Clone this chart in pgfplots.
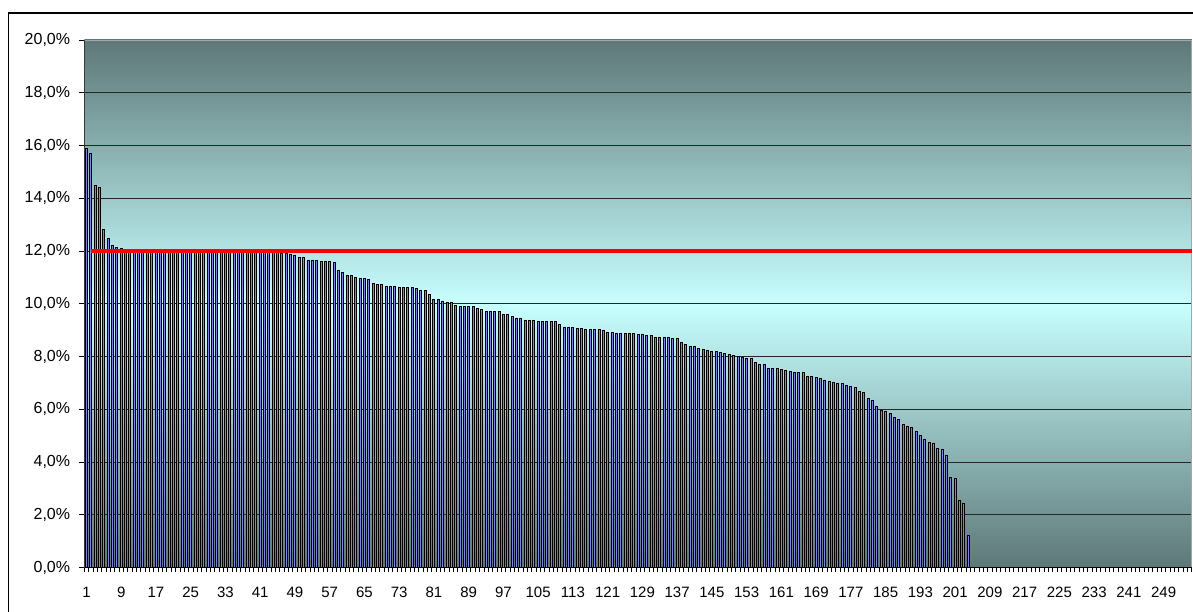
\documentclass[border=0pt]{standalone}
\usepackage{fontspec}
\setmainfont{Liberation Sans}
\usepackage{pgfplots}
\pgfplotsset{compat=1.18}
\usepackage{pgfplotstable}
\definecolor{bgdark}{RGB}{94,120,120}
\definecolor{bglight}{RGB}{200,255,255}
\definecolor{barfill}{RGB}{130,130,225}
\pgfplotstableread{
k v
1 15.9
2 15.7
3 14.5
4 14.4
5 12.82
6 12.49
7 12.2
8 12.15
9 12.1
10 12.06
11 12.05
12 12.04
13 12.03
14 12.03
15 12.02
16 12.02
17 12.01
18 12.01
19 12.0
20 12.0
21 12.0
22 12.0
23 12.0
24 12.0
25 12.0
26 12.0
27 12.0
28 12.0
29 12.0
30 12.0
31 11.98
32 11.98
33 11.98
34 11.98
35 11.98
36 11.98
37 11.98
38 11.98
39 11.98
40 11.98
41 11.96
42 11.96
43 11.96
44 11.96
45 11.96
46 11.91
47 11.89
48 11.86
49 11.85
50 11.76
51 11.75
52 11.66
53 11.66
54 11.65
55 11.61
56 11.61
57 11.60
58 11.56
59 11.28
60 11.18
61 11.08
62 11.08
63 11.01
64 10.96
65 10.96
66 10.91
67 10.77
68 10.74
69 10.74
70 10.67
71 10.67
72 10.66
73 10.62
74 10.62
75 10.62
76 10.61
77 10.57
78 10.50
79 10.50
80 10.34
81 10.15
82 10.15
83 10.09
84 10.05
85 10.05
86 9.95
87 9.90
88 9.90
89 9.90
90 9.89
91 9.84
92 9.79
93 9.71
94 9.71
95 9.70
96 9.70
97 9.60
98 9.60
99 9.50
100 9.46
101 9.46
102 9.37
103 9.37
104 9.36
105 9.32
106 9.32
107 9.32
108 9.31
109 9.31
110 9.21
111 9.12
112 9.12
113 9.11
114 9.08
115 9.05
116 9.02
117 9.02
118 9.02
119 9.01
120 8.97
121 8.92
122 8.92
123 8.87
124 8.87
125 8.87
126 8.86
127 8.86
128 8.83
129 8.83
130 8.78
131 8.78
132 8.73
133 8.73
134 8.73
135 8.72
136 8.68
137 8.67
138 8.52
139 8.44
140 8.39
141 8.38
142 8.32
143 8.28
144 8.23
145 8.18
146 8.18
147 8.14
148 8.13
149 8.09
150 8.03
151 7.99
152 7.98
153 7.91
154 7.91
155 7.79
156 7.70
157 7.70
158 7.55
159 7.55
160 7.54
161 7.51
162 7.48
163 7.44
164 7.41
165 7.41
166 7.40
167 7.26
168 7.26
169 7.21
170 7.16
171 7.11
172 7.06
173 7.01
174 6.97
175 6.96
176 6.92
177 6.86
178 6.81
179 6.68
180 6.63
181 6.41
182 6.34
183 6.12
184 5.94
185 5.93
186 5.84
187 5.69
188 5.60
189 5.43
190 5.36
191 5.32
192 5.16
193 5.02
194 4.86
195 4.73
196 4.72
197 4.52
198 4.48
199 4.24
200 3.41
201 3.36
202 2.55
203 2.43
204 1.22
}\datatable
\begin{document}
\begin{tikzpicture}
\path[use as bounding box] (0,0) rectangle (1193bp,612bp);
\fill[white] (0,0) rectangle (1193bp,612bp);
\draw[black, line width=1.2bp] (8.3bp,0) -- (8.3bp,599bp) -- (1193bp,599bp);
\begin{axis}[
  at={(84.3bp,44.5bp)}, anchor=south west,
  width=1107.5bp, height=527.5bp, scale only axis,
  xmin=0.5, xmax=255.5, ymin=0, ymax=20,
  axis background/.style={shade, top color=bgdark, bottom color=bgdark, middle color=bglight},
  axis line style={draw=gray!70, line width=0.8bp},
  ytick={0,2,...,20},
  ymajorgrids, major grid style={black!85, line width=0.8bp},
  xtick={1,9,...,249},
  minor xtick={0.5,1.5,...,255.5},
  tick pos=left, tick align=outside,
  major tick length=5bp, minor tick length=4.5bp,
  major x tick style={draw=none},
  tick style={black, line width=0.7bp},
  /pgf/number format/assume math mode=true,
  tick label style={inner sep=0pt},
  yticklabel={\pgfmathprintnumber[fixed,fixed zerofill,precision=1,use comma]{\tick}\%},
  yticklabel style={anchor=east, xshift=-9bp, font=\fontsize{16bp}{19bp}\selectfont},
  xticklabel style={anchor=north, yshift=-14.5bp, font=\fontsize{15bp}{18bp}\selectfont},
]
\addplot[ybar, bar width=2.0bp, draw=black, line width=0.9bp, fill=barfill] table[x=k,y=v]{\datatable};
\addplot[red, line width=3.5bp] coordinates {(2,12) (255.5,12)};
\draw[black, line width=1bp] (rel axis cs:0,1) -- (rel axis cs:0,0) -- (rel axis cs:1,0);
\end{axis}
\end{tikzpicture}
\end{document}
